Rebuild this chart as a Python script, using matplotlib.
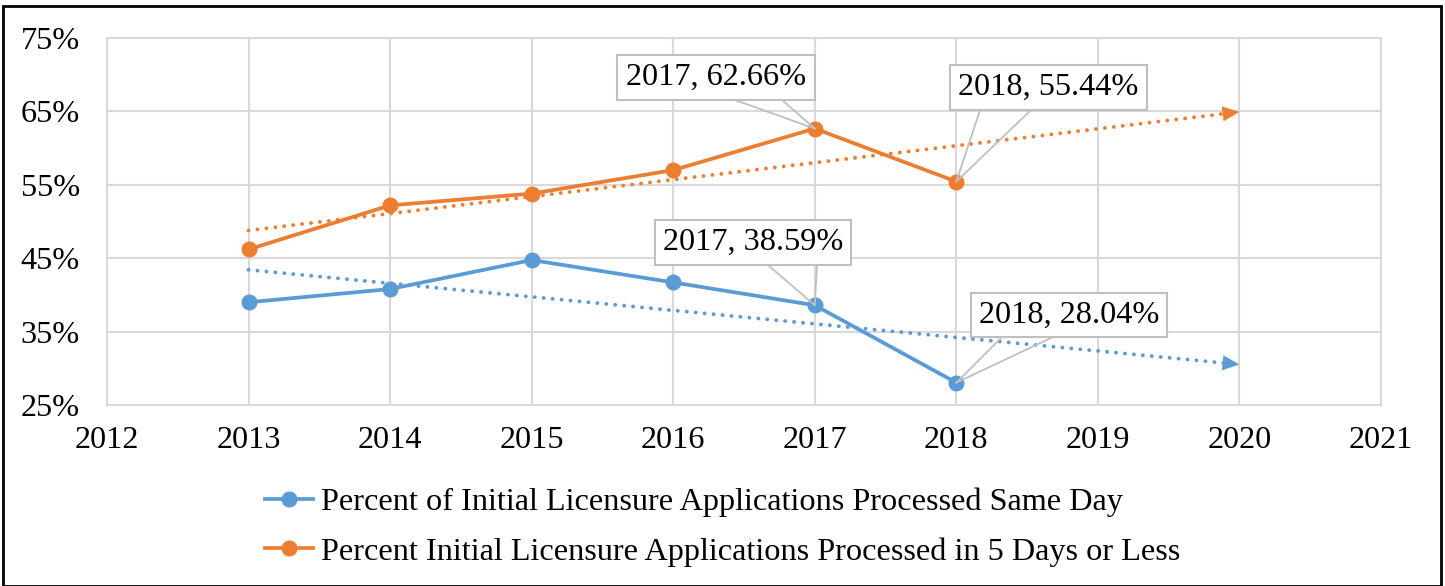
import numpy as np
import matplotlib.pyplot as plt
from matplotlib.patches import Rectangle
from matplotlib.lines import Line2D

years = [2013, 2014, 2015, 2016, 2017, 2018]
same_day = [39.0, 40.8, 44.75, 41.7, 38.59, 28.04]
five_days = [46.2, 52.2, 53.8, 57.0, 62.66, 55.44]
trend_end = 2020
label_same = "Percent of Initial Licensure Applications Processed Same Day"
label_five = "Percent Initial Licensure Applications Processed in 5 Days or Less"
yticks = [25, 35, 45, 55, 65, 75]
xticks = list(range(2012, 2022))

BLUE = "#5B9BD5"
ORANGE = "#ED7D31"
GRID = "#D9D9D9"
FS = 23.2

plt.rcParams['font.family'] = ['Liberation Serif', 'DejaVu Serif']

fig = plt.figure(figsize=(14.45, 5.86), dpi=100)
W, H = 1445, 586
ax = fig.add_axes([107 / W, 1 - 405 / H, (1381 - 107) / W, (405 - 38) / H])

ax.set_xlim(2012, 2021)
ax.set_ylim(25, 75)
ax.set_xticks(xticks)
ax.set_yticks(yticks)
ax.set_yticklabels([f"{v}%" for v in yticks])
ax.tick_params(axis='both', length=0, labelsize=FS)
ax.tick_params(axis='y', pad=19.5)
ax.tick_params(axis='x', pad=15)
ax.grid(True, color=GRID, linewidth=1.5)
ax.set_axisbelow(True)
for s in ax.spines.values():
    s.set_color(GRID)
    s.set_linewidth(1.5)

# trendlines
xs = np.array(years, dtype=float)
for vals, col in [(same_day, BLUE), (five_days, ORANGE)]:
    k, b = np.polyfit(xs, vals, 1)
    xt = np.array([years[0], trend_end - 0.1])
    ax.plot(xt, k * xt + b, linestyle=(0, (0.01, 2.3)), dash_capstyle='round',
            color=col, linewidth=2.8, zorder=2)
    ax.annotate('', xy=(trend_end, k * trend_end + b),
                xytext=(trend_end - 0.12, k * (trend_end - 0.12) + b),
                arrowprops=dict(arrowstyle='-|>,head_length=0.45,head_width=0.2',
                                mutation_scale=27, color=col, lw=0,
                                shrinkA=0, shrinkB=0), zorder=3)

ax.plot(years, same_day, color=BLUE, linewidth=2.7, marker='o', markersize=10.5, zorder=4)
ax.plot(years, five_days, color=ORANGE, linewidth=2.7, marker='o', markersize=10.5, zorder=4)

# callouts: box in pixel coords (left, top, right, bottom), wedge base x0, x1
callouts = [
    (2017, five_days[4], (617, 55, 815, 100), (735, 782)),
    (2018, five_days[5], (950, 65, 1147, 110), (980, 1031)),
    (2017, same_day[4], (655, 220, 851, 265), (768, 817)),
    (2018, same_day[5], (971, 293, 1167, 337), (1002, 1053)),
]
inv = ax.transData.inverted()
fig.canvas.draw()


def pix2data(px, py):
    return inv.transform((px, H - py))


for (x, y, box, wedge) in callouts:
    l, t, r, btm = box
    (dl, dt) = pix2data(l, t)
    (dr, db) = pix2data(r, btm)
    rect = Rectangle((dl, db), dr - dl, dt - db, facecolor='white', edgecolor='#BFBFBF',
                     linewidth=1.5, zorder=6, clip_on=False)
    ax.add_patch(rect)
    for wx in wedge:
        (wdx, wdy) = pix2data(wx, btm)
        ax.plot([wdx, x], [wdy, y], color='#BFBFBF', linewidth=1.3, zorder=5)
    ax.text((dl + dr) / 2, (dt + db) / 2, f"{x}, {y:.2f}%", ha='center', va='center',
            fontsize=FS, zorder=7)

handles = [Line2D([], [], color=BLUE, linewidth=2.7, marker='o', markersize=10.5),
           Line2D([], [], color=ORANGE, linewidth=2.7, marker='o', markersize=10.5)]
fig.legend(handles, [label_same, label_five], loc='center', bbox_to_anchor=(0.5, 1 - 527 / H),
           frameon=False, fontsize=FS, handlelength=1.5, handletextpad=0.25, labelspacing=0.62)

fig.patches.append(Rectangle((3 / W, 0), (1441 - 3) / W, (H - 6) / H, transform=fig.transFigure,
                             fill=False, edgecolor='black', linewidth=2, zorder=10))

fig.savefig('out.png', dpi=100)
